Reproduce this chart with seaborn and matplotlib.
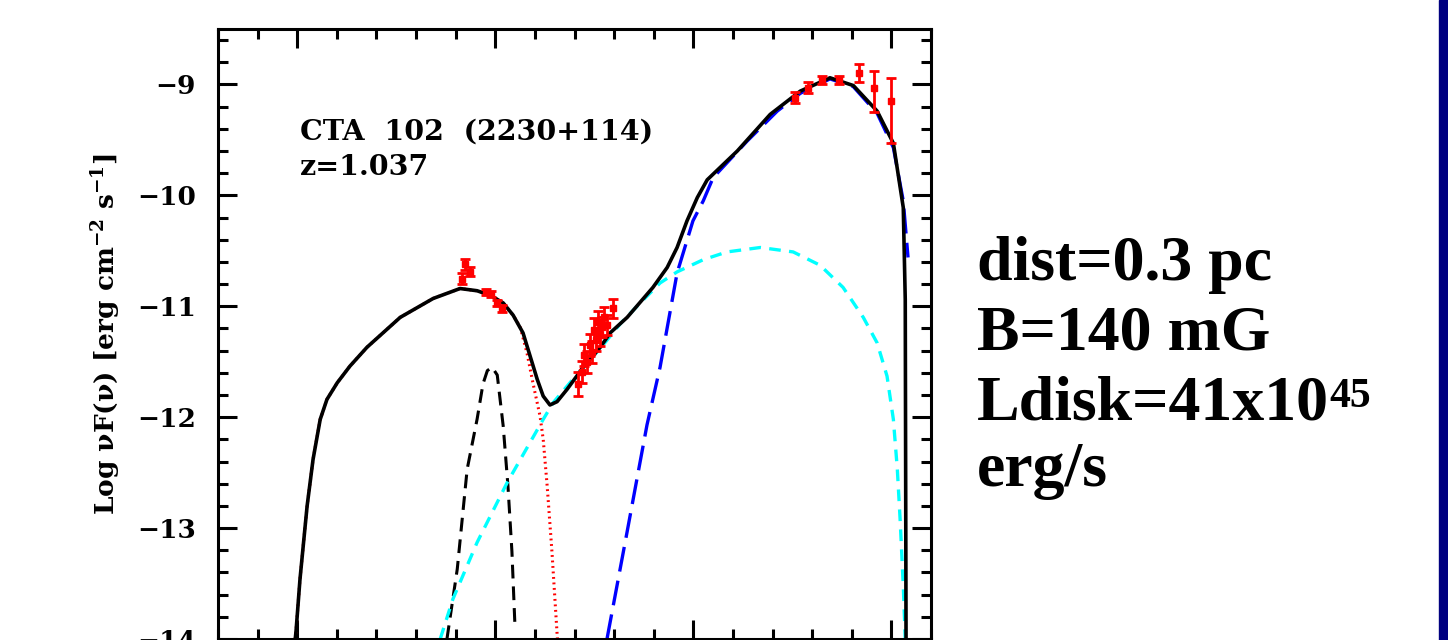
import numpy as np
import matplotlib
matplotlib.use("Agg")
import matplotlib.pyplot as plt
import seaborn as sns
from matplotlib.ticker import MultipleLocator
from matplotlib.patches import Rectangle

# SED of CTA 102: log nu [Hz] vs log nuF(nu)

# total model (black solid)
tot_x = [9.95, 9.97, 10.07, 10.25, 10.40, 10.58, 10.75, 11.01, 11.33, 11.76, 12.60, 13.43, 14.11,
         14.54, 14.87, 15.20, 15.45, 15.70, 15.88, 16.06, 16.21, 16.38, 16.56, 16.81, 17.22, 17.65,
         17.90, 18.33, 18.98, 19.34, 19.59, 19.84, 20.10, 20.35, 21.11, 21.94, 22.70, 23.45, 24.04,
         24.64, 25.05, 25.30, 25.35, 25.37]
tot_y = [-14.0, -13.93, -13.46, -12.80, -12.38, -12.02, -11.84, -11.69, -11.54, -11.37, -11.10, -10.93, -10.84,
         -10.86, -10.90, -10.97, -11.08, -11.24, -11.45, -11.66, -11.81, -11.89, -11.86, -11.75, -11.55, -11.37,
         -11.24, -11.10, -10.83, -10.65, -10.47, -10.23, -10.02, -9.86, -9.60, -9.27, -9.06, -8.94, -9.01,
         -9.24, -9.53, -10.11, -10.94, -14.0]

# synchrotron (red dotted)
syn_x = [9.95, 9.97, 10.07, 10.25, 10.40, 10.58, 10.75, 11.01, 11.33, 11.76, 12.60, 13.43, 14.11,
         14.54, 14.87, 15.20, 15.45, 15.63, 15.80, 15.95, 16.13, 16.21, 16.31, 16.43, 16.56, 16.57]
syn_y = [-14.0, -13.93, -13.46, -12.80, -12.38, -12.02, -11.84, -11.69, -11.54, -11.37, -11.10, -10.93, -10.84,
         -10.86, -10.90, -10.97, -11.08, -11.19, -11.42, -11.69, -11.99, -12.20, -12.62, -13.21, -13.95, -14.0]

# accretion disk (black dashed)
disk_x = [13.78, 14.04, 14.29, 14.54, 14.69, 14.80, 14.92, 15.05, 15.20, 15.32, 15.42, 15.50]
disk_y = [-14.0, -13.37, -12.47, -12.02, -11.70, -11.58, -11.55, -11.62, -12.08, -12.62, -13.21, -13.91]

# SSC (cyan dashed)
ssc_x = [13.61, 13.93, 14.54, 15.30, 16.21, 16.46, 17.05, 17.65, 18.15, 18.66, 19.16, 19.59, 20.25, 20.85,
         21.69, 22.52, 23.20, 23.78, 24.29, 24.64, 24.89, 25.05, 25.15, 25.22, 25.30, 25.35]
ssc_y = [-14.0, -13.64, -13.13, -12.59, -12.02, -11.87, -11.62, -11.38, -11.16, -10.97, -10.79, -10.69, -10.58, -10.51,
         -10.47, -10.51, -10.63, -10.83, -11.10, -11.33, -11.63, -12.02, -12.47, -12.92, -13.52, -14.0]

# external Compton (blue long dashes)
ec_x = [17.82, 18.33, 18.83, 19.16, 19.59, 19.99, 20.25, 20.50, 21.36, 22.12, 22.70, 23.45, 24.04,
        24.64, 25.05, 25.30, 25.42]
ec_y = [-14.0, -13.03, -12.07, -11.55, -10.70, -10.23, -10.05, -9.84, -9.51, -9.24, -9.08, -8.95, -9.02,
        -9.26, -9.57, -10.05, -10.56]

# observed data (red points)
opt_x = [14.16, 14.24, 14.36, 14.77, 14.89, 15.05, 15.17]
opt_y = [-10.75, -10.62, -10.69, -10.87, -10.89, -10.97, -11.02]
opt_err = [0.05, 0.05, 0.04, 0.03, 0.03, 0.03, 0.03]

xr_x = [17.09, 17.19, 17.24, 17.32, 17.39, 17.44, 17.49, 17.55, 17.60, 17.65, 17.70, 17.75, 17.82, 17.97]
xr_y = [-11.70, -11.59, -11.44, -11.50, -11.35, -11.41, -11.21, -11.30, -11.14, -11.26, -11.19, -11.10, -11.17, -11.02]
xr_err = [0.11, 0.10, 0.10, 0.10, 0.10, 0.10, 0.10, 0.10, 0.10, 0.10, 0.09, 0.09, 0.09, 0.09]

gam_x = [22.57, 22.90, 23.25, 23.68, 24.19, 24.57, 25.00]
gam_y = [-9.12, -9.03, -8.96, -8.96, -8.90, -9.03, -9.15]
gam_lo = [0.05, 0.05, 0.04, 0.04, 0.08, 0.22, 0.38]
gam_hi = [0.05, 0.05, 0.04, 0.04, 0.08, 0.15, 0.21]

sns.set_style("ticks")
plt.rcParams["font.family"] = ["DejaVu Serif", "DejaVu Sans"]
plt.rcParams["mathtext.fontset"] = "dejavuserif"
plt.rcParams["mathtext.default"] = "bf"
for k in ["text.color", "axes.labelcolor", "xtick.color", "ytick.color", "axes.edgecolor"]:
    plt.rcParams[k] = "black"

fig = plt.figure(figsize=(14.48, 6.4), dpi=100)
ax = fig.add_axes([218 / 1448, 1 / 640, 713 / 1448, 610 / 640])

sns.lineplot(x=syn_x, y=syn_y, ax=ax, sort=False, color="red", lw=2.2,
             linestyle=(0, (0.6, 1.2)))
sns.lineplot(x=disk_x, y=disk_y, ax=ax, sort=False, color="black", lw=2.2,
             linestyle=(0, (4.5, 2.6)))
sns.lineplot(x=ssc_x, y=ssc_y, ax=ax, sort=False, color="cyan", lw=2.4,
             linestyle=(0, (3.5, 2.5)))
sns.lineplot(x=ec_x, y=ec_y, ax=ax, sort=False, color="blue", lw=2.4,
             linestyle=(0, (7.5, 2.8)))
sns.lineplot(x=tot_x, y=tot_y, ax=ax, sort=False, color="black", lw=2.6)

pt = dict(fmt="s", color="red", ms=4.5, elinewidth=2, capsize=3.5, capthick=2, zorder=5)
ax.errorbar(opt_x, opt_y, yerr=opt_err, **pt)
ax.errorbar(xr_x, xr_y, yerr=xr_err, **pt)
ax.errorbar(gam_x, gam_y, yerr=[gam_lo, gam_hi], **pt)

ax.set_xlim(8, 26)
ax.set_ylim(-14, -8.5)
ax.xaxis.set_major_locator(MultipleLocator(5))
ax.xaxis.set_minor_locator(MultipleLocator(1))
ax.yaxis.set_major_locator(MultipleLocator(1))
ax.yaxis.set_minor_locator(MultipleLocator(0.2))
ax.tick_params(which="both", direction="in", top=True, right=True, bottom=True, left=True,
               width=2.2, labelbottom=False)
ax.tick_params(which="major", length=14)
ax.tick_params(which="minor", length=7.5)
ax.tick_params(axis="y", labelsize=19, pad=16)
for lab in ax.get_yticklabels():
    lab.set_fontweight("bold")
for s in ax.spines.values():
    s.set_linewidth(2.2)

ax.set_ylabel(r"Log $\nu$F($\nu$) [erg cm$^{-2}$ s$^{-1}$]", fontsize=19, fontweight="bold", labelpad=10)

ax.text(0.115, 0.818, "CTA  102  (2230+114)", transform=ax.transAxes, fontsize=20.5,
        fontweight="bold", va="baseline")
ax.text(0.115, 0.761, "z=1.037", transform=ax.transAxes, fontsize=20.5,
        fontweight="bold", va="baseline")

rfont = dict(family="Liberation Serif", fontweight="bold", fontsize=46, va="baseline")
fig.text(977 / 1448, 1 - 280 / 640, "dist=0.3 pc", **rfont)
fig.text(977 / 1448, 1 - 350 / 640, "B=140 mG", **rfont)
ld = fig.text(977 / 1448, 1 - 420 / 640, "Ldisk=41x10", **rfont)
fig.text(977 / 1448, 1 - 486 / 640, "erg/s", **rfont)
ax.annotate("45", xy=(1.0, 0.97), xycoords=ld, va="top", ha="left",
            family="Liberation Serif", fontweight="bold", fontsize=30, annotation_clip=False)

fig.patches.append(Rectangle((1439 / 1448, 0), 9 / 1448, 1, transform=fig.transFigure,
                             color="#000080", zorder=10))

fig.savefig("out.png", dpi=100)
